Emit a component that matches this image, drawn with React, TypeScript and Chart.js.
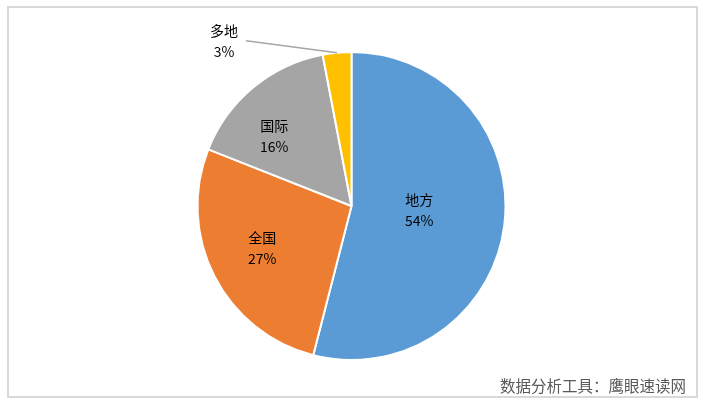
import React, { useEffect, useRef } from "react";
import { Chart, registerables } from "chart.js";

Chart.register(...registerables);

const categories = ["地方", "全国", "国际", "多地"];
const values = [54, 27, 16, 3];
const colors = ["#5B9BD5", "#ED7D31", "#A5A5A5", "#FFC000"];
const watermark = "数据分析工具：鹰眼速读网";

// label placement: fraction of radius, angle tweak (deg); null => outside label
const labelPlacement: ({ r: number; da: number } | null)[] = [
  { r: 0.44, da: -4 },
  { r: 0.64, da: 2 },
  { r: 0.68, da: -8 },
  null,
];

const FONT = '"Noto Sans CJK SC", "Noto Sans", sans-serif';

const labelPlugin = {
  id: "sliceLabels",
  afterDatasetsDraw(chart: any) {
    const ctx = chart.ctx;
    const meta = chart.getDatasetMeta(0);
    const data = chart.data.datasets[0].data as number[];
    const total = data.reduce((a, b) => a + b, 0);
    ctx.save();
    ctx.font = `14px ${FONT}`;
    ctx.fillStyle = "#000";
    ctx.textAlign = "center";
    ctx.textBaseline = "middle";
    meta.data.forEach((arc: any, i: number) => {
      const { x, y, startAngle, endAngle, outerRadius } = arc.getProps(
        ["x", "y", "startAngle", "endAngle", "outerRadius"],
        true
      );
      const mid = (startAngle + endAngle) / 2;
      const pct = Math.round((data[i] / total) * 100) + "%";
      const name = chart.data.labels[i];
      const pl = labelPlacement[i];
      let lx: number, ly: number;
      if (pl) {
        const a = mid + (pl.da * Math.PI) / 180;
        lx = x + Math.cos(a) * outerRadius * pl.r;
        ly = y + Math.sin(a) * outerRadius * pl.r;
      } else {
        const ex = x + Math.cos(mid) * outerRadius;
        const ey = y + Math.sin(mid) * outerRadius;
        lx = ex - 113;
        ly = ey - 12;
        ctx.strokeStyle = "#A6A6A6";
        ctx.lineWidth = 1.5;
        ctx.beginPath();
        ctx.moveTo(lx + 22, ly);
        ctx.lineTo(ex, ey);
        ctx.stroke();
      }
      ctx.fillText(name, lx, ly - 10);
      ctx.fillText(pct, lx, ly + 11);
    });
    ctx.restore();
  },
};

export default function App() {
  const ref = useRef<HTMLCanvasElement>(null);
  useEffect(() => {
    const chart = new Chart(ref.current!, {
      type: "pie",
      data: {
        labels: categories,
        datasets: [
          {
            data: values,
            backgroundColor: colors,
            borderColor: "#FFFFFF",
            borderWidth: 2,
          },
        ],
      },
      options: {
        animation: false,
        responsive: false,
        layout: { padding: { top: 51, bottom: 44, left: 0, right: 0 } },
        plugins: {
          legend: { display: false },
          tooltip: { enabled: false },
        },
      },
      plugins: [labelPlugin],
    });
    return () => chart.destroy();
  }, []);

  return (
    <div style={{ position: "fixed", left: 0, top: 0, width: 703, height: 405, background: "#fff" }}>
      <canvas ref={ref} width={703} height={405} style={{ position: "absolute", left: 0, top: 0 }} />
      <div
        style={{
          position: "absolute",
          left: 7,
          top: 6,
          width: 687,
          height: 388,
          border: "2px solid #D9D9D9",
          pointerEvents: "none",
        }}
      />
      <div
        style={{
          position: "absolute",
          right: 703 - 686,
          top: 375,
          fontFamily: FONT,
          fontSize: 15.5,
          color: "#595959",
          whiteSpace: "nowrap",
          lineHeight: "20px",
        }}
      >
        {watermark}
      </div>
    </div>
  );
}
